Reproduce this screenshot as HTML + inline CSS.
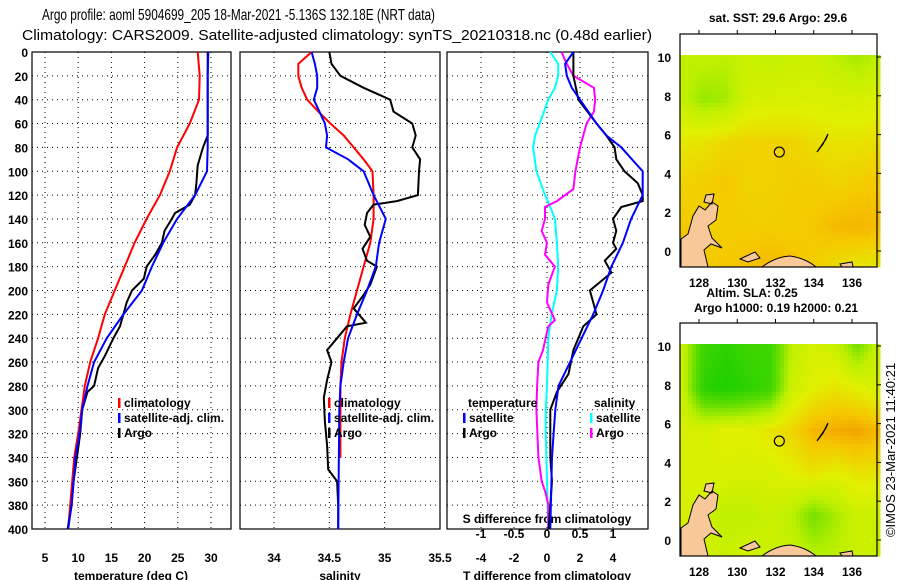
<!DOCTYPE html>
<html><head><meta charset="utf-8"><style>
body{margin:0;background:#fff;}
svg{display:block;font-family:"Liberation Sans",sans-serif;}
.t{font-size:12px;font-weight:bold;fill:#000;}
</style></head><body>
<svg id="fig" width="900" height="580" viewBox="0 0 900 580">
<text x="42" y="20" textLength="393" lengthAdjust="spacingAndGlyphs" font-size="16">Argo profile: aoml 5904699_205 18-Mar-2021 -5.136S 132.18E (NRT data)</text>
<text x="22" y="40" textLength="630" lengthAdjust="spacingAndGlyphs" font-size="15">Climatology: CARS2009. Satellite-adjusted climatology: synTS_20210318.nc (0.48d earlier)</text>
</svg>
<script>
// ---- data ----
const depthTicks=[0,20,40,60,80,100,120,140,160,180,200,220,240,260,280,300,320,340,360,380,400];
const tempTicks=[5,10,15,20,25,30];
const salTicks=[34,34.5,35,35.5];
const tdiffTicks=[-4,-2,0,2,4];
const sdiffTicks=[-1,-0.5,0,0.5,1];
const tClimDepth=[0,20,40,60,80,100,120,140,160,180,200,220,240,260,280,300,320,340,360,380,400];
const tClimVal=[28.0,28.3,28.2,26.8,24.9,23.8,22.3,20.3,18.5,17.0,15.5,14.0,13.0,11.8,11.0,10.5,10.0,9.4,9.1,8.8,8.5];
const tSatDepth=[0,20,40,60,80,100,120,140,160,180,200,220,240,260,280,300,320,340,360,380,400];
const tSatVal=[29.6,29.5,29.5,29.5,29.5,29.4,27.6,24.9,22.8,21.1,19.6,16.8,14.3,12.4,11.4,10.6,10.2,9.6,9.3,9.0,8.5];
const tArgoDepth=[0,70,80,95,110,120,128,135,140,150,160,170,180,190,200,210,220,230,240,255,265,280,285,300,320,340,360,380,400];
const tArgoVal=[29.5,29.5,28.8,28.0,27.8,27.6,26.8,24.6,24.1,23.0,22.6,21.6,20.3,19.9,18.1,17.3,16.8,16.3,15.3,14.0,13.0,12.4,11.4,10.6,10.3,9.8,9.3,9.0,8.4];
const sClimDepth=[0,10,20,30,40,50,60,70,80,90,100,120,140,160,180,200,220,240,260,280,300,340];
const sClimVal=[34.34,34.22,34.22,34.25,34.30,34.40,34.51,34.63,34.72,34.81,34.89,34.90,34.90,34.87,34.81,34.75,34.69,34.64,34.61,34.60,34.60,34.60];
const sSatDepth=[0,10,20,30,40,50,60,70,80,90,100,120,140,160,180,200,220,240,260,280,300,400];
const sSatVal=[34.34,34.37,34.39,34.39,34.36,34.41,34.46,34.48,34.47,34.67,34.81,34.90,35.01,34.95,34.92,34.84,34.75,34.67,34.63,34.60,34.59,34.58];
const sArgoDepth=[0,10,20,30,40,50,60,70,80,90,100,120,125,128,135,145,155,165,175,180,195,205,215,227,230,240,250,260,275,290,310,330,350,360,380,400];
const sArgoVal=[34.50,34.52,34.60,34.81,35.05,35.08,35.25,35.28,35.25,35.32,35.31,35.30,35.11,34.90,34.84,34.82,34.87,34.80,34.84,34.93,34.87,34.80,34.72,34.83,34.66,34.57,34.48,34.52,34.48,34.45,34.46,34.48,34.49,34.57,34.58,34.58];
const dtSatDepth=[0,10,20,30,40,60,70,80,100,120,140,160,180,200,220,240,260,280,300,320,340,400];
const dtSatVal=[1.6,1.1,1.2,1.5,2.0,3.0,3.6,4.5,5.8,5.8,5.1,4.6,3.9,3.4,2.8,2.1,1.4,0.7,0.5,0.4,0.3,0.2];
const dtArgoDepth=[0,20,40,60,70,80,90,100,110,120,125,130,140,150,160,165,175,185,200,210,220,230,250,270,285,300,320,340,360,380,400];
const dtArgoVal=[1.6,1.6,1.9,3.0,3.6,4.1,4.2,4.7,5.5,5.8,5.8,4.5,4.0,4.2,4.0,4.2,3.5,3.9,2.6,2.8,3.0,2.2,1.6,1.3,0.6,0.2,0.2,0.2,0.3,0.2,0.1];
const dsSatDepth=[0,10,20,30,40,60,70,80,100,120,130,140,160,180,200,220,240,280,300,320,360,400];
const dsSatVal=[0.05,0.17,0.17,0.12,0.02,-0.11,-0.18,-0.21,-0.16,-0.03,0.05,0.12,0.15,0.17,0.15,0.07,0.02,0.0,-0.02,-0.02,0.0,0.02];
const dsArgoDepth=[0,10,20,30,40,50,60,80,100,115,125,130,140,150,160,170,180,195,210,225,230,250,260,280,300,340,360,370,380,400];
const dsArgoVal=[0.22,0.30,0.40,0.71,0.73,0.71,0.60,0.50,0.43,0.40,0.15,-0.03,-0.03,-0.08,0.0,-0.03,0.12,0.02,0.0,0.12,0.02,-0.06,-0.13,-0.15,-0.16,-0.13,-0.08,-0.02,0.02,0.02];
const lonTicks=[128,130,132,134,136];
const latTicks=[10,8,6,4,2,0];
const sstGrid=[
[0.50,0.52,0.50,0.55,0.52,0.55,0.55,0.50,0.45,0.50],
[0.52,0.42,0.45,0.58,0.60,0.60,0.62,0.60,0.60,0.62],
[0.68,0.70,0.74,0.76,0.76,0.76,0.72,0.70,0.70,0.72],
[0.76,0.78,0.80,0.76,0.76,0.78,0.78,0.76,0.78,0.80],
[0.80,0.76,0.78,0.78,0.78,0.78,0.80,0.84,0.85,0.84],
[0.84,0.80,0.80,0.82,0.85,0.82,0.78,0.72,0.68,0.68]];
const slaGrid=[
[0.55,0.20,0.15,0.20,0.20,0.50,0.60,0.55,0.35,0.55],
[0.55,0.15,0.10,0.15,0.20,0.55,0.65,0.70,0.65,0.60],
[0.60,0.60,0.65,0.65,0.70,0.75,0.85,0.88,0.90,0.85],
[0.60,0.62,0.62,0.60,0.60,0.65,0.70,0.65,0.70,0.70],
[0.60,0.58,0.50,0.50,0.55,0.50,0.35,0.45,0.55,0.55],
[0.65,0.60,0.55,0.60,0.55,0.55,0.50,0.50,0.55,0.55]];

// ---- drawing ----
const NS="http://www.w3.org/2000/svg";
const svg=document.getElementById('fig');
function el(tag,attrs,parent){const e=document.createElementNS(NS,tag);for(const k in attrs)e.setAttribute(k,attrs[k]);(parent||svg).appendChild(e);return e;}
const Y0=52,Y1=529;
const yD=d=>Y0+(Y1-Y0)*d/400;
function mk(x0,x1,v0,v1){return v=>x0+(v-v0)*(x1-x0)/(v1-v0);}
const xT=mk(45,211,5,30), xS=mk(274,440,34,35.5), xDT=mk(547,613,0,4), xDS=mk(547,613,0,1);
const panels=[[32,231],[240,440],[447,648]];

function panel(i,xf,ticks,name){
  const [a,b]=panels[i];
  const g=el('g',{});
  
  
  depthTicks.forEach(d=>{if(d>0&&d<400){const l=el('line',{x1:a,x2:b,y1:yD(d),y2:yD(d),stroke:'#000','stroke-dasharray':'1,4','stroke-width':1},g);}});
  ticks.forEach(v=>{const x=xf(v);if(x>a+2&&x<b-2){const l=el('line',{x1:x,x2:x,y1:Y0,y2:Y1,stroke:'#000','stroke-dasharray':'1,4'},g);}});
  const r=el('rect',{x:a,y:Y0,width:b-a,height:Y1-Y0,fill:'none',stroke:'#000','stroke-width':1.2},g);
  
  return g;
}
function line(xf,depths,vals,color,name){
  const pts=depths.map((d,i)=>xf(vals[i]).toFixed(1)+','+yD(d).toFixed(1)).join(' ');
  const p=el('polyline',{points:pts,fill:'none',stroke:color,'stroke-width':2});
  
}
function txt(x,y,s,opts,name){const t=el('text',Object.assign({x:x,y:y,class:'t'},opts||{}));t.textContent=s;return t;}

panel(0,xT,tempTicks,'temperature-panel');
panel(1,xS,salTicks,'salinity-panel');
panel(2,xDT,tdiffTicks,'difference-panel');
depthTicks.forEach(d=>txt(28,yD(d)+5,String(d),{'text-anchor':'end'},'depth-tick-label'));
tempTicks.forEach(v=>txt(xT(v),562,String(v),{'text-anchor':'middle'},'temperature-tick-label'));
salTicks.forEach(v=>txt(xS(v),562,String(v),{'text-anchor':'middle'},'salinity-tick-label'));
tdiffTicks.forEach(v=>txt(xDT(v),562,String(v),{'text-anchor':'middle'},'t-diff-tick-label'));
sdiffTicks.forEach(v=>txt(xDS(v),538,String(v),{'text-anchor':'middle'},'s-diff-tick-label'));
txt(131,580,'temperature (deg C)',{'text-anchor':'middle'},'temperature-axis-title');
txt(340,580,'salinity',{'text-anchor':'middle'},'salinity-axis-title');
txt(547,580,'T difference from climatology',{'text-anchor':'middle'},'t-diff-axis-title');
txt(547,523,'S difference from climatology',{'text-anchor':'middle'},'s-diff-axis-title');

line(xT,tClimDepth,tClimVal,'#ff0000','temp-climatology-line');
line(xT,tArgoDepth,tArgoVal,'#000000','temp-argo-line');
line(xT,tSatDepth,tSatVal,'#0000ff','temp-satellite-line');
line(xS,sClimDepth,sClimVal,'#ff0000','sal-climatology-line');
line(xS,sArgoDepth,sArgoVal,'#000000','sal-argo-line');
line(xS,sSatDepth,sSatVal,'#0000ff','sal-satellite-line');
line(xDS,dsSatDepth,dsSatVal,'#00ffff','sdiff-satellite-line');
line(xDS,dsArgoDepth,dsArgoVal,'#ff00ff','sdiff-argo-line');
line(xDT,dtArgoDepth,dtArgoVal,'#000000','tdiff-argo-line');
line(xDT,dtSatDepth,dtSatVal,'#0000ff','tdiff-satellite-line');

function legend(x,y,color,label,name){
  const r=el('rect',{x:x,y:y-9,width:2.5,height:10,fill:color});
  
  txt(x+6,y,label,{},name);
}
legend(118,407,'#ff0000','climatology','legend-climatology');
legend(118,422,'#0000ff','satellite-adj. clim.','legend-satellite-adj');
legend(118,437,'#000000','Argo','legend-argo');
legend(328,407,'#ff0000','climatology','legend2-climatology');
legend(328,422,'#0000ff','satellite-adj. clim.','legend2-satellite-adj');
legend(328,437,'#000000','Argo','legend2-argo');
txt(468,407,'temperature',{},'legend-temperature-heading');
legend(463,422,'#0000ff','satellite','legend-t-satellite');
legend(463,437,'#000000','Argo','legend-t-argo');
txt(594,407,'salinity',{},'legend-salinity-heading');
legend(590,422,'#00ffff','satellite','legend-s-satellite');
legend(590,437,'#ff00ff','Argo','legend-s-argo');

// ---- maps ----
const stops=[[0,[0,200,0]],[0.3,[90,220,0]],[0.5,[190,240,0]],[0.65,[225,240,0]],[0.8,[245,200,0]],[1,[240,130,0]]];
function cmap(v){v=Math.max(0,Math.min(1,v));for(let i=1;i<stops.length;i++){if(v<=stops[i][0]){const [a,ca]=stops[i-1],[b,cb]=stops[i];const t=(v-a)/(b-a);return 'rgb('+ca.map((c,k)=>Math.round(c+(cb[k]-c)*t)).join(',')+')';}}return 'rgb(240,130,0)';}
function sample(grid,fx,fy){const R=grid.length-1,C=grid[0].length-1;const x=fx*C,y=fy*R;const i=Math.min(Math.floor(y),R-1),j=Math.min(Math.floor(x),C-1);const ty=y-i,tx=x-j;return grid[i][j]*(1-tx)*(1-ty)+grid[i][j+1]*tx*(1-ty)+grid[i+1][j]*(1-tx)*ty+grid[i+1][j+1]*tx*ty;}
function map(oy,grid,name,cell){
  const g=el('g',{});
  
  const x0=680,x1=877,dTop=oy+21,dBot=oy+233,fTop=oy;
  const lonX=mk(699,852,128,136), latY=mk(oy+23,oy+217,10,0);
  for(let y=dTop;y<dBot;y+=cell){for(let x=x0;x<x1;x+=cell){
    const v=sample(grid,(x-x0)/(x1-x0),(y-dTop)/(dBot-dTop));
    el('rect',{x:x,y:y,width:cell+0.5,height:cell+0.5,fill:cmap(v)},g);}}
  const land=el('path',{d:`M681,${oy+233} L681,${oy+205} L688,${oy+200} L693,${oy+182} L699,${oy+172} L705,${oy+176} L712,${oy+168} L718,${oy+172} L716,${oy+186} L708,${oy+192} L712,${oy+204} L722,${oy+214} L711,${oy+210} L704,${oy+216} L708,${oy+233} Z M706,${oy+161} L714,${oy+160} L712,${oy+170} L704,${oy+168} Z M740,${oy+225} L755,${oy+218} L760,${oy+224} L748,${oy+228} Z M762,${oy+233} Q775,${oy+223} 790,${oy+222} Q805,${oy+224} 816,${oy+233} Z M840,${oy+230} L852,${oy+228} L853,${oy+233} L842,${oy+233} Z`,fill:'#f8c898',stroke:'#000','stroke-width':1},g);
  
  const isl=el('path',{d:`M817,${oy+118} L826,${oy+105} L828,${oy+100} L823,${oy+110} Z`,fill:'#f8c898',stroke:'#000','stroke-width':1.2},g);
  
  const c=el('circle',{cx:lonX(132.2),cy:latY(5.1),r:5,fill:'none',stroke:'#000','stroke-width':1.2},g);
  
  const f=el('rect',{x:x0,y:fTop,width:x1-x0,height:dBot-fTop,fill:'none',stroke:'#000','stroke-width':1.2},g);
  
  lonTicks.forEach(v=>{const x=lonX(v);el('line',{x1:x,x2:x,y1:fTop-4,y2:fTop,stroke:'#000'},g);txt(x,dBot+20,String(v),{'text-anchor':'middle'},'lon-tick-label');});
  latTicks.forEach(v=>{const y=latY(v);el('line',{x1:x1,x2:x1+4,y1:y,y2:y,stroke:'#000'},g);txt(671,y+5,String(v),{'text-anchor':'end'},'lat-tick-label');});
}
map(34,sstGrid,'sst-map',4);
map(323,slaGrid,'sla-map',4);
txt(778,22,'sat. SST: 29.6 Argo: 29.6',{'text-anchor':'middle'},'sst-map-title');
txt(752,297,'Altim. SLA: 0.25',{'text-anchor':'middle'},'sla-map-subtitle');
txt(776,312,'Argo h1000: 0.19 h2000: 0.21',{'text-anchor':'middle'},'sla-map-title');
const cp=el('text',{x:0,y:0,'font-size':13,transform:'translate(895,450) rotate(-90)','text-anchor':'middle'});
cp.textContent='©IMOS 23-Mar-2021 11:40:21';


</script>
</body></html>
